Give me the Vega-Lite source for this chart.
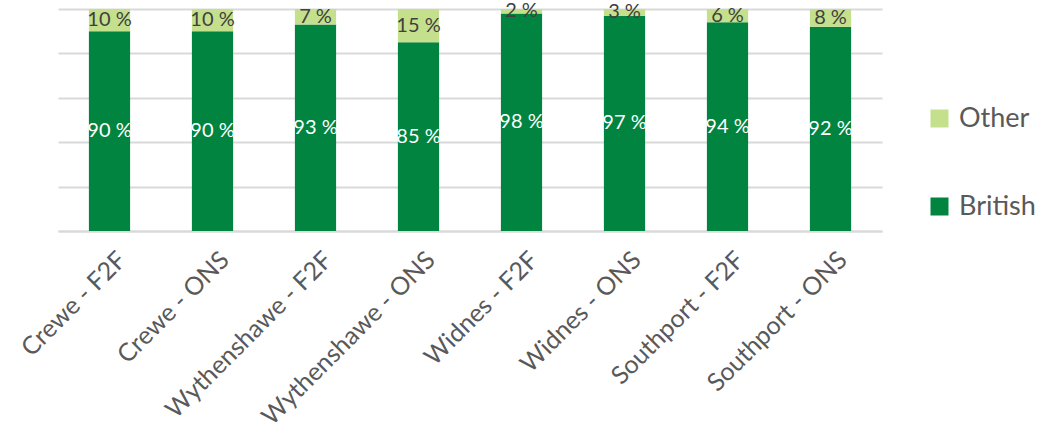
{
  "$schema": "https://vega.github.io/schema/vega-lite/v6.json",
  "width": 824,
  "height": 222,
  "autosize": {"type": "none"},
  "padding": {"left": 58, "top": 9, "right": 163, "bottom": 199},
  "background": "white",
  "config": {"view": {"stroke": null}, "font": "Lato"},
  "data": {
    "values": [
      {"cat": "Crewe - F2F", "group": "British", "value": 90, "label": "90 %"},
      {"cat": "Crewe - F2F", "group": "Other", "value": 10, "label": "10 %"},
      {"cat": "Crewe - ONS", "group": "British", "value": 90, "label": "90 %"},
      {"cat": "Crewe - ONS", "group": "Other", "value": 10, "label": "10 %"},
      {"cat": "Wythenshawe - F2F", "group": "British", "value": 93, "label": "93 %"},
      {"cat": "Wythenshawe - F2F", "group": "Other", "value": 7, "label": "7 %"},
      {"cat": "Wythenshawe - ONS", "group": "British", "value": 85, "label": "85 %"},
      {"cat": "Wythenshawe - ONS", "group": "Other", "value": 15, "label": "15 %"},
      {"cat": "Widnes - F2F", "group": "British", "value": 98, "label": "98 %"},
      {"cat": "Widnes - F2F", "group": "Other", "value": 2, "label": "2 %"},
      {"cat": "Widnes - ONS", "group": "British", "value": 97, "label": "97 %"},
      {"cat": "Widnes - ONS", "group": "Other", "value": 3, "label": "3 %"},
      {"cat": "Southport - F2F", "group": "British", "value": 94, "label": "94 %"},
      {"cat": "Southport - F2F", "group": "Other", "value": 6, "label": "6 %"},
      {"cat": "Southport - ONS", "group": "British", "value": 92, "label": "92 %"},
      {"cat": "Southport - ONS", "group": "Other", "value": 8, "label": "8 %"}
    ]
  },
  "layer": [
    {
      "mark": {"type": "bar"},
      "encoding": {
        "x": {
          "field": "cat", "type": "nominal", "sort": null,
          "scale": {"paddingInner": 0.6, "paddingOuter": 0.3},
          "axis": {"title": null, "labelAngle": -45, "labelFontSize": 25, "labelColor": "#595959", "labelLimit": 0, "ticks": false, "domainColor": "#d9d9d9", "domainWidth": 2, "labelPadding": 16, "labelOffset": 4}
        },
        "y": {
          "field": "value", "type": "quantitative", "stack": "zero",
          "scale": {"domain": [0, 100], "nice": false},
          "axis": {"values": [0, 20, 40, 60, 80, 100], "labels": false, "ticks": false, "domain": false, "title": null, "gridColor": "#d9d9d9", "gridWidth": 2}
        },
        "color": {
          "field": "group", "type": "nominal",
          "scale": {"domain": ["Other", "British"], "range": ["#c5e08c", "#00843f"]},
          "legend": {"title": null, "orient": "none", "legendX": 868, "legendY": 96, "symbolType": "square", "symbolSize": 324, "symbolStrokeWidth": 0, "labelFontSize": 27, "labelColor": "#595959", "rowPadding": 60, "labelOffset": 6, "labelLimit": 0}
        },
        "order": {"field": "group", "sort": "ascending"}
      }
    },
    {
      "transform": [{"filter": "datum.group === 'British'"}],
      "mark": {"type": "text", "fontSize": 20, "color": "white", "baseline": "middle", "align": "center"},
      "encoding": {
        "x": {"field": "cat", "type": "nominal", "sort": null},
        "y": {"field": "value", "type": "quantitative", "scale": {"domain": [0, 200], "nice": false}, "axis": null},
        "text": {"field": "label"}
      }
    },
    {
      "transform": [{"filter": "datum.group === 'Other'"}],
      "mark": {"type": "text", "fontSize": 20, "color": "#404040", "baseline": "middle", "align": "center"},
      "encoding": {
        "x": {"field": "cat", "type": "nominal", "sort": null},
        "y": {"field": "value", "type": "quantitative", "scale": {"domain": [0, 200], "nice": false, "reverse": true}, "axis": null},
        "text": {"field": "label"}
      }
    }
  ],
  "resolve": {"scale": {"y": "independent"}}
}
